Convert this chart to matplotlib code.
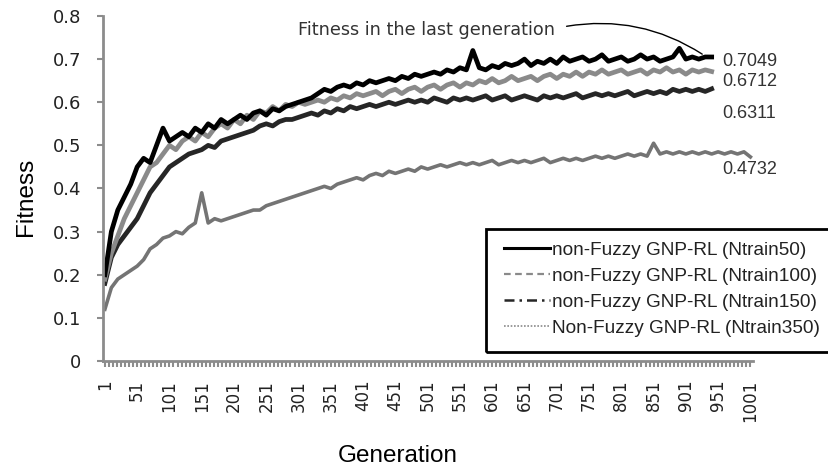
## fitness per generation for the four non-Fuzzy GNP-RL training sizes
## values every 10 generations

import numpy as np
from matplotlib import pyplot as plt
from matplotlib.lines import Line2D
from matplotlib.patches import FancyArrowPatch, Rectangle
from matplotlib.ticker import MultipleLocator, FixedLocator

gens = np.arange(1, 1002, 10)  # 1, 11, ..., 1001

ntrain50 = [0.20, 0.30, 0.35, 0.38, 0.41, 0.45, 0.47, 0.46, 0.50, 0.54,
            0.51, 0.52, 0.53, 0.52, 0.54, 0.53, 0.55, 0.54, 0.56, 0.55,
            0.56, 0.57, 0.56, 0.575, 0.58, 0.57, 0.585, 0.58, 0.59, 0.595,
            0.60, 0.605, 0.61, 0.62, 0.63, 0.625, 0.635, 0.64, 0.635, 0.645,
            0.64, 0.65, 0.645, 0.65, 0.655, 0.65, 0.66, 0.655, 0.665, 0.66,
            0.665, 0.67, 0.665, 0.675, 0.67, 0.68, 0.675, 0.72, 0.68, 0.675,
            0.685, 0.68, 0.69, 0.685, 0.69, 0.70, 0.685, 0.695, 0.69, 0.70,
            0.69, 0.705, 0.695, 0.70, 0.705, 0.695, 0.70, 0.71, 0.695, 0.70,
            0.705, 0.695, 0.70, 0.71, 0.70, 0.705, 0.695, 0.70, 0.705, 0.725,
            0.70, 0.705, 0.70, 0.705, 0.7049]

ntrain100 = [0.19, 0.25, 0.29, 0.33, 0.36, 0.39, 0.42, 0.45, 0.46, 0.48,
             0.50, 0.49, 0.51, 0.52, 0.51, 0.53, 0.52, 0.54, 0.55, 0.54,
             0.56, 0.55, 0.57, 0.56, 0.58, 0.575, 0.59, 0.58, 0.595, 0.59,
             0.60, 0.595, 0.60, 0.605, 0.60, 0.61, 0.605, 0.615, 0.61, 0.62,
             0.615, 0.62, 0.625, 0.615, 0.625, 0.63, 0.62, 0.63, 0.635, 0.625,
             0.635, 0.64, 0.63, 0.64, 0.645, 0.635, 0.645, 0.64, 0.65, 0.645,
             0.655, 0.645, 0.65, 0.66, 0.65, 0.655, 0.66, 0.65, 0.66, 0.665,
             0.655, 0.665, 0.66, 0.67, 0.66, 0.67, 0.665, 0.675, 0.665, 0.67,
             0.675, 0.665, 0.67, 0.675, 0.665, 0.675, 0.67, 0.68, 0.67, 0.675,
             0.665, 0.675, 0.67, 0.675, 0.6712]

ntrain150 = [0.18, 0.24, 0.27, 0.29, 0.31, 0.33, 0.36, 0.39, 0.41, 0.43,
             0.45, 0.46, 0.47, 0.48, 0.485, 0.49, 0.50, 0.495, 0.51, 0.515,
             0.52, 0.525, 0.53, 0.535, 0.545, 0.55, 0.545, 0.555, 0.56, 0.56,
             0.565, 0.57, 0.575, 0.57, 0.58, 0.575, 0.585, 0.58, 0.59, 0.585,
             0.59, 0.595, 0.59, 0.595, 0.60, 0.595, 0.60, 0.605, 0.60, 0.605,
             0.60, 0.61, 0.605, 0.60, 0.61, 0.605, 0.61, 0.605, 0.61, 0.615,
             0.605, 0.61, 0.615, 0.605, 0.61, 0.615, 0.61, 0.605, 0.615, 0.61,
             0.615, 0.61, 0.615, 0.62, 0.61, 0.615, 0.62, 0.615, 0.62, 0.615,
             0.62, 0.625, 0.615, 0.62, 0.625, 0.62, 0.625, 0.62, 0.63, 0.625,
             0.63, 0.625, 0.63, 0.625, 0.6311]

ntrain350 = [0.12, 0.17, 0.19, 0.20, 0.21, 0.22, 0.235, 0.26, 0.27, 0.285,
             0.29, 0.30, 0.295, 0.31, 0.32, 0.39, 0.32, 0.33, 0.325, 0.33,
             0.335, 0.34, 0.345, 0.35, 0.35, 0.36, 0.365, 0.37, 0.375, 0.38,
             0.385, 0.39, 0.395, 0.40, 0.405, 0.40, 0.41, 0.415, 0.42, 0.425,
             0.42, 0.43, 0.435, 0.43, 0.44, 0.435, 0.44, 0.445, 0.44, 0.45,
             0.445, 0.45, 0.455, 0.45, 0.455, 0.46, 0.455, 0.46, 0.455, 0.46,
             0.465, 0.455, 0.46, 0.465, 0.46, 0.465, 0.46, 0.465, 0.47, 0.46,
             0.465, 0.47, 0.465, 0.47, 0.465, 0.47, 0.475, 0.47, 0.475, 0.47,
             0.475, 0.48, 0.475, 0.48, 0.475, 0.505, 0.48, 0.485, 0.48, 0.485,
             0.48, 0.485, 0.48, 0.485, 0.48, 0.485, 0.48, 0.485, 0.48, 0.485,
             0.4732]

labels = ['non-Fuzzy GNP-RL (Ntrain50)', 'non-Fuzzy GNP-RL (Ntrain100)',
          'non-Fuzzy GNP-RL (Ntrain150)', 'Non-Fuzzy GNP-RL (Ntrain350)']
last_text = ['0.7049', '0.6712', '0.6311', '0.4732']

W, H = 829, 470
fig = plt.figure(figsize=(W / 100, H / 100), dpi=100)
ax = fig.add_axes([0.1242, 0.2319, 0.7841, 0.7341])

axis_grey = '#8c8c8c'

# the original curves are so dense that their dash patterns read as solid bands
ax.plot(gens[:len(ntrain350)], ntrain350, color='#747474', lw=2.6)
ax.plot(gens[:len(ntrain150)], ntrain150, color='#262626', lw=3.4)
ax.plot(gens[:len(ntrain100)], ntrain100, color='#8a8a8a', lw=3.4)
ax.plot(gens[:len(ntrain50)], ntrain50, color='black', lw=3.4)

ax.set_xlim(-2, 1005)
ax.set_ylim(0, 0.8)

for side in ['top', 'right']:
    ax.spines[side].set_visible(False)
for side in ['left', 'bottom']:
    ax.spines[side].set_color(axis_grey)
    ax.spines[side].set_linewidth(2)

ax.yaxis.set_major_locator(MultipleLocator(0.1))
ax.set_yticklabels(['0' if v == 0 else '%.1f' % v for v in ax.get_yticks()])
ax.xaxis.set_major_locator(FixedLocator(np.arange(1, 1002, 50)))
ax.xaxis.set_minor_locator(FixedLocator(np.arange(1, 1002, 6.25)))
ax.set_xticklabels([str(g) for g in np.arange(1, 1002, 50)], rotation=90)
ax.tick_params(axis='both', which='both', color=axis_grey, width=1.5, length=4.5,
               direction='out', labelcolor='#222222')
ax.tick_params(axis='x', which='minor', length=4)
ax.tick_params(axis='x', which='major', pad=9, labelsize=12)
ax.tick_params(axis='y', which='major', pad=11, labelsize=13)

ax.set_ylabel('Fitness', fontsize=17.5, family='Liberation Sans')
ax.yaxis.set_label_coords(-0.102, 0.475)
ax.set_xlabel('Generation', fontsize=17.5, family='Liberation Sans')
ax.xaxis.set_label_coords(0.454, -0.243)

# final-generation values next to the line ends
label_y = [0.694, 0.647, 0.573, 0.443]
for txt, yy in zip(last_text, label_y):
    ax.text(957, yy, txt, fontsize=13, family='Liberation Sans', color='#333333',
            ha='left', va='center')

ax.text(300, 0.768, 'Fitness in the last generation', fontsize=12.7, color='#333333',
        ha='left', va='center')
ax.add_patch(FancyArrowPatch((712, 0.775), (930, 0.708), arrowstyle='-', color='black',
                             lw=1, connectionstyle='arc3,rad=-0.2'))

handles = [Line2D([], [], color='black', lw=2.2, ls='-'),
           Line2D([], [], color='#8a8a8a', lw=1.6, ls=(0, (3, 2))),
           Line2D([], [], color='#262626', lw=1.8, ls=(0, (4, 2, 1, 2))),
           Line2D([], [], color='#8a8a8a', lw=1.2, ls=(0, (1, 1)))]
leg = fig.legend(handles, labels, loc='upper left', bbox_to_anchor=(495 / W, 1 - 233 / H),
                 bbox_transform=fig.transFigure, frameon=False,
                 prop={'family': 'Liberation Sans', 'size': 13.7}, handlelength=2.45,
                 handletextpad=0.1, labelspacing=0.45, borderpad=0.45, borderaxespad=0)
for t in leg.get_texts():
    t.set_color('#222222')
# legend box runs off the right edge of the picture in the original
fig.add_artist(Rectangle((486 / W, 1 - 352 / H), 360 / W, 123 / H, transform=fig.transFigure,
                         fill=False, edgecolor='black', lw=2, clip_on=False))

plt.savefig('out.png', dpi=100)
